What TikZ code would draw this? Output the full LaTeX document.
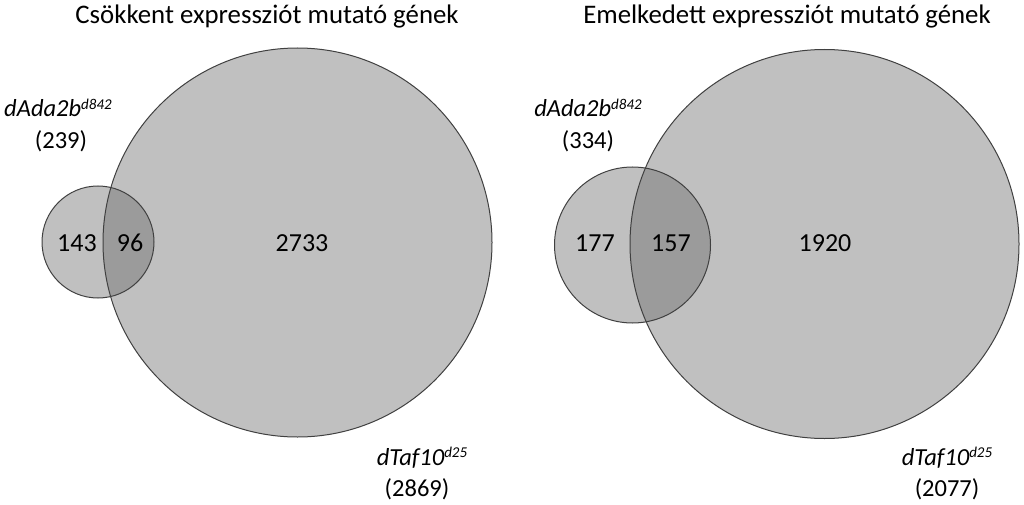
\documentclass[tikz,border=0pt]{standalone}
\usepackage{fontspec}
\setmainfont{Carlito}
\definecolor{lightfill}{RGB}{192,192,192}
\definecolor{darkfill}{RGB}{155,155,155}
\definecolor{edgecol}{RGB}{64,64,64}
\newcommand{\mysup}[1]{\raisebox{7.5pt}{\fontsize{15}{15}\selectfont\textit{#1}}}
\begin{document}
\begin{tikzpicture}[x=1pt,y=-1pt,
  outline/.style={draw=edgecol, line width=1pt},
  titletext/.style={font=\fontsize{26.8}{30}\selectfont, anchor=base, inner sep=0pt},
  numtext/.style={font=\fontsize{26}{30}\selectfont, anchor=base, inner sep=0pt},
  labtext/.style={font=\fontsize{24.5}{30}\selectfont, anchor=base, inner sep=0pt}]
\useasboundingbox (0,0) rectangle (1024,505);
% ---------- left diagram ----------
\fill[lightfill] (297.5,242.5) circle (194.5pt);
\fill[lightfill] (98,242) circle (56pt);
\begin{scope}
  \clip (297.5,242.5) circle (194.5pt);
  \fill[darkfill] (98,242) circle (56pt);
\end{scope}
\draw[outline] (297.5,242.5) circle (194.5pt);
\draw[outline] (98,242) circle (56pt);
% ---------- right diagram ----------
\fill[lightfill] (824.5,244) circle (194.5pt);
\fill[lightfill] (632.5,245) circle (78pt);
\begin{scope}
  \clip (824.5,244) circle (194.5pt);
  \fill[darkfill] (632.5,245) circle (78pt);
\end{scope}
\draw[outline] (824.5,244) circle (194.5pt);
\draw[outline] (632.5,245) circle (78pt);
% ---------- titles ----------
\node[titletext] (t1) at (267,24) {Csökkent expressziót mutató gének};
\node[titletext] (t2) at (787,24) {Emelkedett expressziót mutató gének};
% ---------- left labels ----------
\node[labtext] (a1) at (58,117) {\textit{dAda2b}\mysup{d842}};
\node[labtext] (a1n) at (61,149) {(239)};
\node[labtext] (b1) at (422,465) {\textit{dTaf10}\mysup{d25}};
\node[labtext] (b1n) at (417,496) {(2869)};
\node[numtext] (n11) at (77,251) {143};
\node[numtext] (n12) at (130,251) {96};
\node[numtext] (n13) at (302,251) {2733};
% ---------- right labels ----------
\node[labtext] (a2) at (588,117) {\textit{dAda2b}\mysup{d842}};
\node[labtext] (a2n) at (588,149) {(334)};
\node[labtext] (b2) at (947,465) {\textit{dTaf10}\mysup{d25}};
\node[labtext] (b2n) at (947,496) {(2077)};
\node[numtext] (n21) at (595,251) {177};
\node[numtext] (n22) at (671,251) {157};
\node[numtext] (n23) at (825,251) {1920};
\end{tikzpicture}
\end{document}
